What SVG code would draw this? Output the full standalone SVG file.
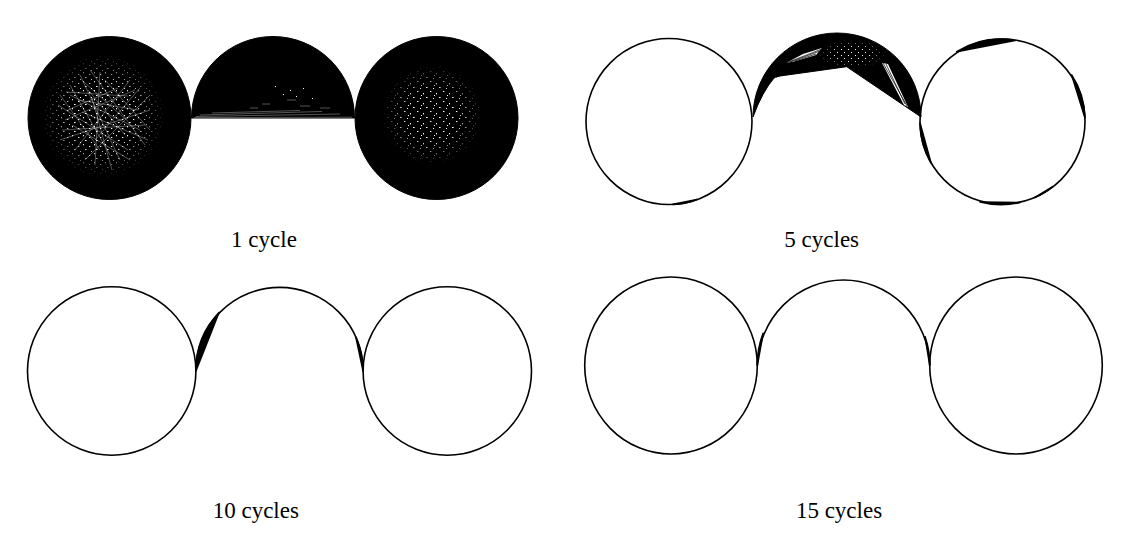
<svg xmlns="http://www.w3.org/2000/svg" width="1138" height="538" viewBox="0 0 1138 538">
<style>
  .lbl { font-family: "Liberation Serif", "Times New Roman", serif; font-size: 23px; fill: #000; text-anchor: middle; }
  .ring { fill: none; stroke: #000; stroke-width: 1.6; }
  .solid { fill: #000; stroke: #000; stroke-width: 1; }
  .sliver { fill: #000; stroke: #000; stroke-width: 1.6; stroke-linejoin: round; }
  .wl { stroke: #fff; stroke-width: 0.45; stroke-opacity: 0.75; fill: none; }
  .bl { stroke: #000; stroke-width: 0.7; fill: none; }
</style>
<defs>
  <pattern id="speck" width="11" height="9" patternUnits="userSpaceOnUse">
    <rect x="1" y="2" width="1.3" height="1" fill="#fff"/>
    <rect x="6" y="0" width="1" height="1.3" fill="#fff"/>
    <rect x="8" y="5" width="1.6" height="1" fill="#fff"/>
    <rect x="3" y="7" width="1" height="1" fill="#fff"/>
  </pattern>
  <pattern id="speckB" width="13" height="10" patternUnits="userSpaceOnUse">
    <rect x="1" y="1" width="1.4" height="1" fill="#fff"/>
    <rect x="7" y="3" width="1" height="1.4" fill="#fff"/>
    <rect x="10" y="7" width="1.6" height="1" fill="#fff"/>
    <rect x="4" y="8" width="1" height="1" fill="#fff"/>
    <rect x="5" y="5" width="1" height="1" fill="#fff"/>
  </pattern>
  <pattern id="speck2" width="7" height="6" patternUnits="userSpaceOnUse">
    <rect x="1" y="1" width="1" height="1" fill="#fff"/>
    <rect x="4" y="4" width="1" height="1" fill="#fff"/>
  </pattern>
  <radialGradient id="fade">
    <stop offset="0" stop-color="#fff"/>
    <stop offset="0.5" stop-color="#fff"/>
    <stop offset="1" stop-color="#000"/>
  </radialGradient>
  <mask id="mL"><circle cx="103" cy="116" r="62" fill="url(#fade)"/></mask>
  <mask id="mR"><circle cx="432" cy="115" r="50" fill="url(#fade)"/></mask>
  <mask id="mB"><ellipse cx="852" cy="54" rx="34" ry="14" fill="url(#fade)"/></mask>
</defs>

<!-- Panel 1: 1 cycle -->
<g id="panel-1cycle">
  <circle class="solid" cx="109.5" cy="118" r="81.5"/>
  <path class="solid" d="M 191.5 118 A 81.5 81.5 0 0 1 354.5 118 Z"/>
  <circle class="solid" cx="436.5" cy="118" r="81.5"/>
  <!-- texture left -->
  <rect x="40" y="50" width="130" height="135" fill="url(#speck)" mask="url(#mL)"/>
  <g class="wl">
    <line x1="70" y1="95" x2="140" y2="130"/>
    <line x1="65" y1="120" x2="135" y2="90"/>
    <line x1="80" y1="75" x2="120" y2="160"/>
    <line x1="60" y1="140" x2="150" y2="110"/>
    <line x1="75" y1="150" x2="130" y2="80"/>
    <line x1="90" y1="70" x2="145" y2="145"/>
    <line x1="58" y1="105" x2="128" y2="150"/>
    <line x1="85" y1="160" x2="150" y2="95"/>
    <line x1="70" y1="85" x2="110" y2="155"/>
    <line x1="100" y1="72" x2="95" y2="165"/>
    <line x1="62" y1="130" x2="145" y2="125"/>
    <line x1="78" y1="100" x2="138" y2="110"/>
    <line x1="88" y1="90" x2="125" y2="135"/>
    <line x1="68" y1="110" x2="118" y2="88"/>
    <line x1="95" y1="140" x2="140" y2="88"/>
    <line x1="72" y1="125" x2="130" y2="160"/>
    <line x1="105" y1="80" x2="150" y2="130"/>
    <line x1="60" y1="95" x2="100" y2="150"/>
    <line x1="82" y1="112" x2="148" y2="140"/>
    <line x1="92" y1="98" x2="112" y2="170"/>
    <line x1="66" y1="92" x2="128" y2="96"/>
    <line x1="84" y1="82" x2="124" y2="118"/>
  </g>
  <!-- texture right -->
  <rect x="380" y="60" width="110" height="110" fill="url(#speckB)" mask="url(#mR)"/>
  <!-- texture middle -->
  <g class="wl" stroke-width="0.7">
    <line x1="194" y1="117.6" x2="352" y2="117.2"/>
    <line x1="196" y1="116.5" x2="340" y2="114"/>
    <line x1="200" y1="115" x2="322" y2="111.5"/>
    <line x1="212" y1="113" x2="300" y2="110.5"/>
    <line x1="262" y1="104" x2="270" y2="104"/>
    <line x1="287" y1="100" x2="296" y2="100"/>
    <line x1="300" y1="106" x2="310" y2="106"/>
    <line x1="320" y1="108" x2="330" y2="108"/>
    <line x1="250" y1="108" x2="258" y2="108"/>
  </g>
  <g fill="#fff">
    <rect x="275" y="86" width="1" height="1"/>
    <rect x="290" y="90" width="1" height="1"/>
    <rect x="303" y="88" width="1" height="1"/>
    <rect x="296" y="96" width="1" height="1"/>
    <rect x="312" y="98" width="1" height="1"/>
    <rect x="283" y="94" width="1" height="1"/>
  </g>
  <text class="lbl" x="264" y="247">1 cycle</text>
</g>

<!-- Panel 2: 5 cycles -->
<g id="panel-5cycles">
  <circle class="ring" cx="669" cy="121.5" r="83"/>
  <circle class="ring" cx="1002.5" cy="121.5" r="82.5"/>
  <path class="solid" d="M 753 117 A 84 84 0 0 1 921 117 L 846.7 66.7 L 775 76.7 Q 762 92 753 117 Z"/>
  <rect x="815" y="38" width="75" height="32" fill="url(#speck2)" mask="url(#mB)"/>
  <polygon points="786,63 803,54 822,48 816,55 796,61" fill="#fff"/>
  <polygon points="882,63 888,64 908,107 904,105" fill="#fff"/>
  <g class="bl">
    <line x1="786" y1="63" x2="822" y2="49"/>
    <line x1="790" y1="62" x2="820" y2="51"/>
    <line x1="795" y1="61" x2="816" y2="54"/>
    <line x1="883" y1="63" x2="907" y2="106"/>
    <line x1="886" y1="64" x2="905" y2="104"/>
    <line x1="776" y1="77" x2="796" y2="69"/>
    <line x1="776" y1="77" x2="803" y2="67"/>
    <line x1="770" y1="80" x2="790" y2="71"/>
  </g>
  <!-- slivers -->
  <path class="sliver" d="M 956.7 51.7 A 82.5 82.5 0 0 1 1015 40.5 Z"/>
  <path class="sliver" d="M 1071.7 75 A 82.5 82.5 0 0 1 1085 118 Z"/>
  <path class="sliver" d="M 1020 202.5 A 82.5 82.5 0 0 1 980 202 Z"/>
  <path class="sliver" d="M 931 163 A 82.5 82.5 0 0 1 920 123 Z"/>
  <path class="sliver" d="M 1053 186.5 A 82.5 82.5 0 0 1 1035 197.5 Z"/>
  <path class="sliver" d="M 697 199.5 A 83 83 0 0 1 673 204.4 Z"/>
  <text class="lbl" x="821.7" y="247">5 cycles</text>
</g>

<!-- Panel 3: 10 cycles -->
<g id="panel-10cycles">
  <circle class="ring" cx="111.7" cy="371" r="84.2"/>
  <path class="ring" d="M 195.9 371 A 83.6 83.6 0 0 1 363.1 371"/>
  <circle class="ring" cx="447.3" cy="371" r="84.2"/>
  <path class="sliver" d="M 195.9 371 A 83.6 83.6 0 0 1 219 312.5 Z"/>
  <path class="sliver" d="M 355.9 337.1 A 83.6 83.6 0 0 1 363.1 371 Z"/>
  <text class="lbl" x="255.8" y="517.5">10 cycles</text>
</g>

<!-- Panel 4: 15 cycles -->
<g id="panel-15cycles">
  <ellipse class="ring" cx="671" cy="365.5" rx="86.3" ry="88.5"/>
  <path class="ring" d="M 757.3 365.5 A 86.3 88.5 0 0 1 929.8 365.5"/>
  <ellipse class="ring" cx="1016" cy="365.5" rx="86.3" ry="88.5"/>
  <path class="sliver" d="M 757.3 365.5 A 86.3 88.5 0 0 1 763.1 333.3 Z"/>
  <path class="sliver" d="M 925.1 336.7 A 86.3 88.5 0 0 1 929.8 365.5 Z"/>
  <text class="lbl" x="839" y="517.5">15 cycles</text>
</g>
</svg>
